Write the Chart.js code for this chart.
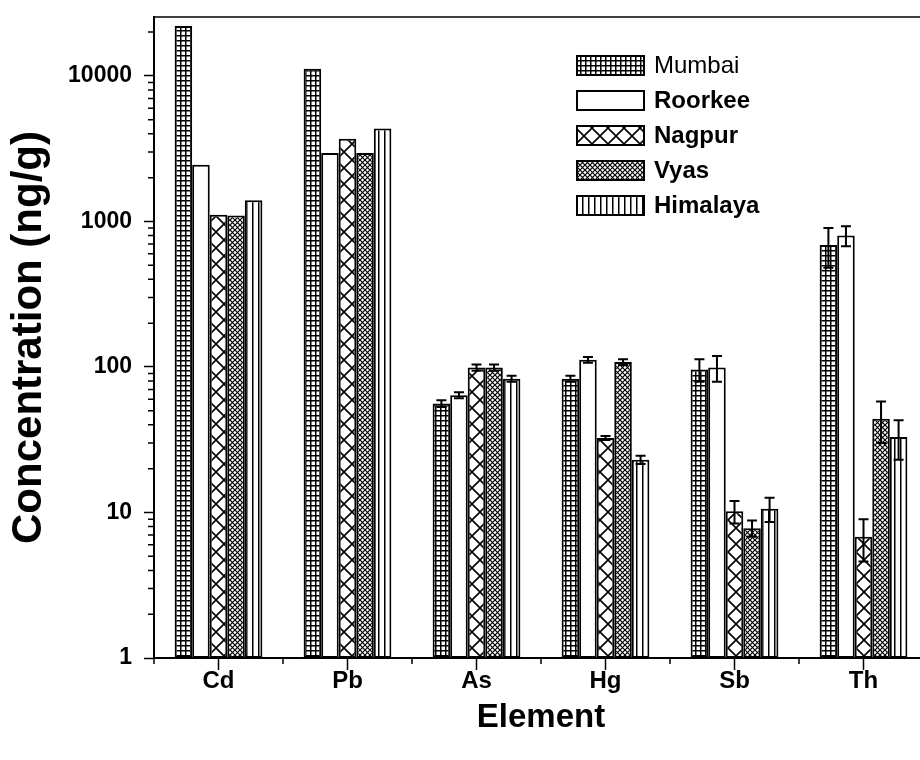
<!DOCTYPE html>
<html>
<head>
<meta charset="utf-8">
<script src="https://cdn.jsdelivr.net/npm/chart.js@4.4.1/dist/chart.umd.min.js"></script>
<style>
  html, body { margin: 0; padding: 0; background: #fff; overflow: hidden; }
  canvas { display: block; }
</style>
</head>
<body>
<canvas id="chart" width="940" height="760"></canvas>
<script>
const elements = ['Cd', 'Pb', 'As', 'Hg', 'Sb', 'Th']
const sites = ['Mumbai', 'Roorkee', 'Nagpur', 'Vyas', 'Himalaya']

const mumbai = [22000, 11200, 56, 83, 96, 690]
const roorkee = [2450, 2950, 64, 112, 99, 800]
const nagpur = [1110, 3700, 99, 32.5, 10.2, 6.8]
const vyas = [1100, 2950, 99, 108, 7.8, 44]
const himalaya = [1400, 4350, 83, 23, 10.6, 33]

const mumbaiErr = [0, 0, 3, 4, 17, 210]
const roorkeeErr = [0, 0, 3, 5, 20, 125]
const nagpurErr = [0, 0, 5, 1, 1.8, 2.2]
const vyasErr = [0, 0, 5, 5, 1, 14]
const himalayaErr = [0, 0, 4, 1.5, 2, 10]

const yTicks = [1, 10, 100, 1000, 10000]
const yTickLabels = ['1', '10', '100', '1000', '10000']

const FONT = "'Liberation Sans', Arial, sans-serif"

// fill patterns, one per site
function makePattern (kind) {
  const c = document.createElement('canvas')
  const g = c.getContext('2d')
  let s = 6
  if (kind === 'grid') s = 5
  if (kind === 'bigx') s = 16
  if (kind === 'smallx') s = 5
  c.width = s; c.height = s
  g.fillStyle = '#fff'
  g.fillRect(0, 0, s, s)
  g.fillStyle = '#000'
  g.strokeStyle = '#000'
  if (kind === 'grid') {
    g.fillRect(0, 0, s, 1.5)
    g.fillRect(0, 0, 1.5, s)
  } else if (kind === 'vert') {
    g.fillRect(0, 0, 1.5, s)
  } else if (kind === 'smallx' || kind === 'bigx') {
    g.lineWidth = kind === 'bigx' ? 1.6 : 1.2
    g.beginPath()
    g.moveTo(-1, -1); g.lineTo(s + 1, s + 1)
    g.moveTo(s + 1, -1); g.lineTo(-1, s + 1)
    g.stroke()
  } else {
    return '#fff'
  }
  return g.createPattern(c, 'repeat')
}

const fills = [
  makePattern('grid'),
  makePattern('none'),
  makePattern('bigx'),
  makePattern('smallx'),
  makePattern('vert')
]
const values = [mumbai, roorkee, nagpur, vyas, himalaya]
const errors = [mumbaiErr, roorkeeErr, nagpurErr, vyasErr, himalayaErr]

const extras = {
  id: 'extras',
  afterDatasetsDraw (chart) {
    const ctx = chart.ctx
    const x = chart.scales.x
    const y = chart.scales.y
    const area = chart.chartArea
    ctx.save()
    ctx.strokeStyle = '#000'

    // error bars
    ctx.lineWidth = 2
    chart.data.datasets.forEach((ds, i) => {
      const meta = chart.getDatasetMeta(i)
      meta.data.forEach((bar, j) => {
        const e = errors[i][j]
        if (!e) return
        const v = ds.data[j]
        const yt = y.getPixelForValue(v + e)
        const yb = y.getPixelForValue(v - e)
        ctx.beginPath()
        ctx.moveTo(bar.x, yt); ctx.lineTo(bar.x, yb)
        ctx.moveTo(bar.x - 5, yt); ctx.lineTo(bar.x + 5, yt)
        ctx.moveTo(bar.x - 5, yb); ctx.lineTo(bar.x + 5, yb)
        ctx.stroke()
      })
    })

    // frame on top and right
    ctx.lineWidth = 1.5
    ctx.beginPath()
    ctx.moveTo(area.left, area.top); ctx.lineTo(area.right, area.top)
    ctx.lineTo(area.right, area.bottom)
    ctx.stroke()

    // minor ticks on log axis
    ctx.lineWidth = 1.5
    ctx.beginPath()
    for (let d = 1; d < 100000; d *= 10) {
      for (let k = 2; k <= 9; k++) {
        const v = d * k
        if (v > y.max) break
        const py = y.getPixelForValue(v)
        ctx.moveTo(area.left - 6, py); ctx.lineTo(area.left, py)
      }
    }
    // minor ticks between categories
    for (let i = 0; i <= elements.length; i++) {
      const px = x.getPixelForValue(i - 0.5)
      ctx.moveTo(px, area.bottom); ctx.lineTo(px, area.bottom + 6)
    }
    ctx.stroke()

    // legend
    const lx = 577
    const ly = 56
    chart.data.datasets.forEach((ds, i) => {
      const by = ly + i * 35
      ctx.fillStyle = ds.backgroundColor
      ctx.fillRect(lx, by, 67, 19)
      ctx.lineWidth = 2
      ctx.strokeRect(lx, by, 67, 19)
      ctx.fillStyle = '#000'
      ctx.font = (i === 0 ? 'normal' : 'bold') + ' 24px ' + FONT
      ctx.textBaseline = 'middle'
      ctx.textAlign = 'left'
      ctx.fillText(ds.label, lx + 77, by + 10)
    })
    ctx.restore()
  }
}

const chart = new Chart(document.getElementById('chart'), {
  type: 'bar',
  data: {
    labels: elements,
    datasets: sites.map((name, i) => ({
      label: name,
      data: values[i],
      backgroundColor: fills[i],
      borderColor: '#000',
      borderWidth: 2,
      borderSkipped: false
    }))
  },
  options: {
    responsive: false,
    animation: false,
    layout: { padding: { left: 0, top: 17, right: 12, bottom: 0 } },
    categoryPercentage: 0.68,
    barPercentage: 1.0,
    scales: {
      x: {
        offset: true,
        grid: {
          offset: false,
          drawOnChartArea: false,
          drawTicks: true,
          tickLength: 12,
          tickWidth: 1.5,
          tickColor: '#000'
        },
        border: { display: true, color: '#000', width: 2 },
        ticks: {
          color: '#000',
          padding: -3,
          font: { family: FONT, size: 24, weight: 'bold' }
        },
        title: {
          display: true,
          text: 'Element',
          color: '#000',
          padding: { top: 22, bottom: 22 },
          font: { family: FONT, size: 33, weight: 'bold' }
        },
        afterFit: s => { s.height = 760 - 658 }
      },
      y: {
        type: 'logarithmic',
        min: 1,
        max: 25400,
        afterBuildTicks: s => { s.ticks = yTicks.map(v => ({ value: v })) },
        grid: {
          drawOnChartArea: false,
          drawTicks: true,
          tickLength: 10,
          tickWidth: 1.5,
          tickColor: '#000'
        },
        border: { display: true, color: '#000', width: 2 },
        ticks: {
          color: '#000',
          padding: 12,
          font: { family: FONT, size: 23, weight: 'bold' },
          callback: (v) => {
            const i = yTicks.indexOf(v)
            return i >= 0 ? yTickLabels[i] : ''
          }
        },
        title: {
          display: true,
          text: 'Concentration (ng/g)',
          color: '#000',
          padding: { top: 4, bottom: 4 },
          font: { family: FONT, size: 42, weight: 'bold' }
        },
        afterFit: s => {
          s.width = 154
          s.paddingTop = 0
          s.paddingBottom = 0
        }
      }
    },
    plugins: {
      legend: { display: false },
      tooltip: { enabled: false }
    }
  },
  plugins: [extras]
})
</script>
</body>
</html>
